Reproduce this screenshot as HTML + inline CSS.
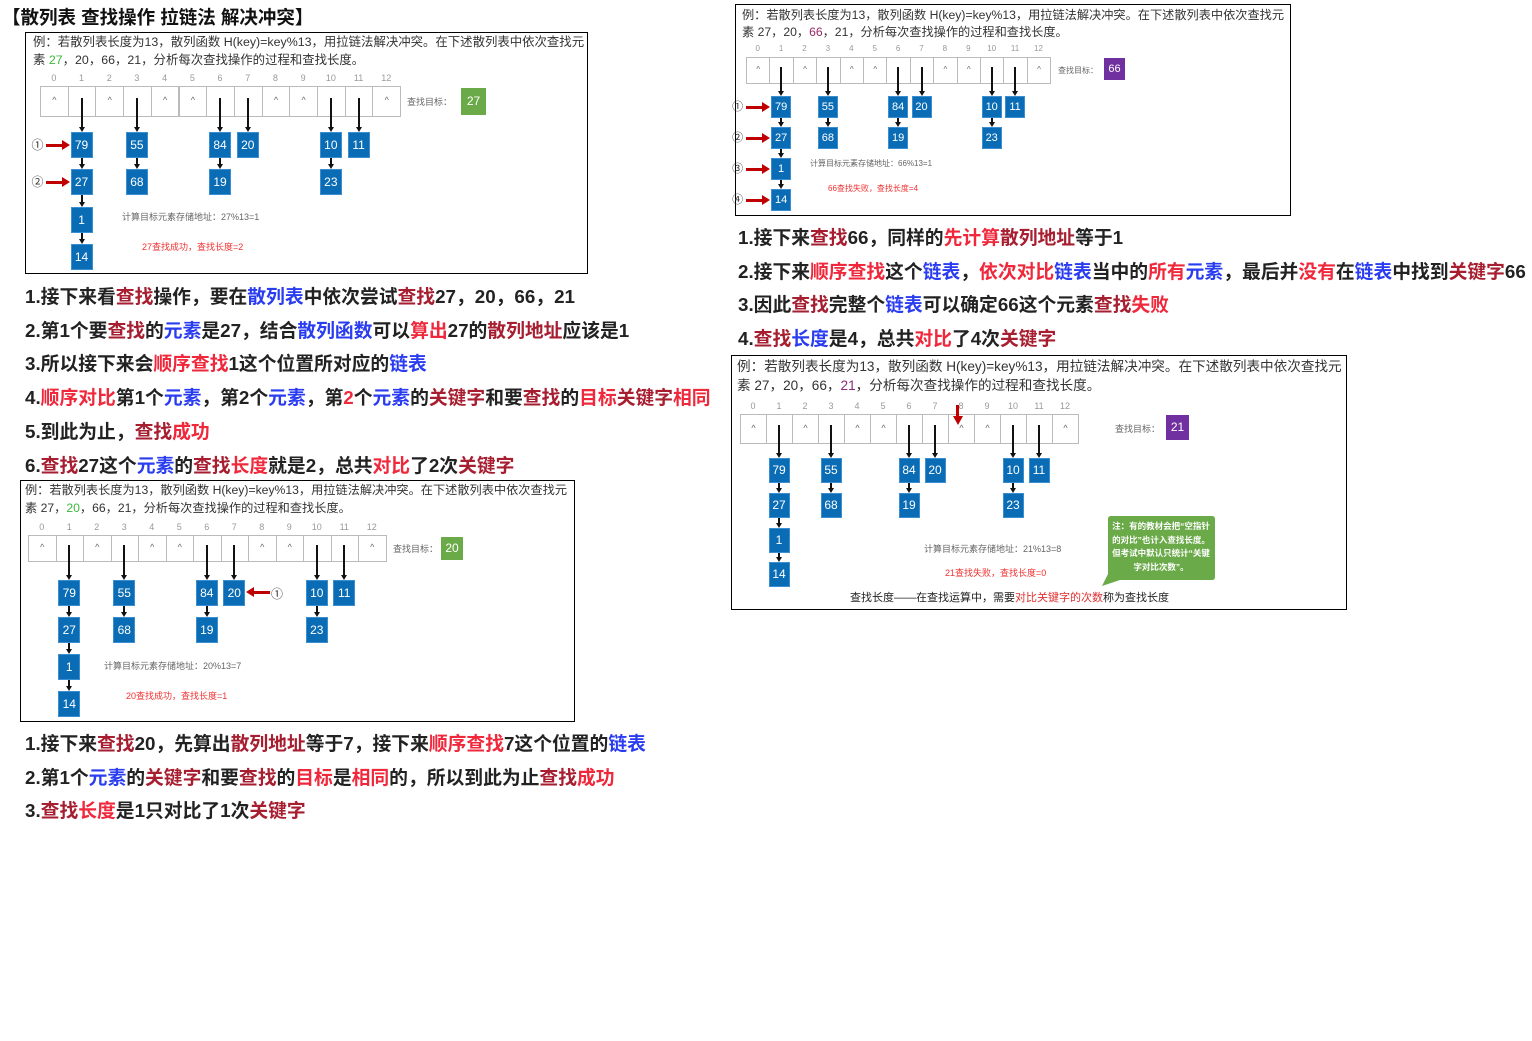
<!DOCTYPE html>
<html><head><meta charset="utf-8">
<style>
body{margin:0;width:1532px;height:1041px;background:#fff;position:relative;overflow:hidden;font-family:"Liberation Sans","Noto Sans CJK SC",sans-serif;}
.a{position:absolute;white-space:nowrap;}
.box{position:absolute;border:1px solid #000;box-sizing:border-box;}
.hd{position:absolute;color:#333;white-space:nowrap;}
.ln{position:absolute;font-weight:bold;font-size:18.8px;color:#222;white-space:nowrap;}
.d{color:#a61e30}.b{color:#2a3cf0}.r{color:#f0283c}
.cell{position:absolute;border:1px solid #bbb;box-sizing:border-box;background:#fff;color:#666;text-align:center;}
.node{position:absolute;background:#0a6cb4;color:#fff;text-align:center;box-sizing:border-box;border:1px solid #3b8fd0;}
.vl{position:absolute;background:#111;width:2px;}
.ah{position:absolute;width:0;height:0;border-left:3px solid transparent;border-right:3px solid transparent;border-top:5px solid #111;}
.idx{position:absolute;color:#999;text-align:center;}
</style></head><body>
<div class="a" style="left:2px;top:4px;font-size:18.5px;font-weight:bold;color:#111">【散列表 查找操作 拉链法 解决冲突】</div>

<div class="box" style="left:25px;top:32px;width:563px;height:242px"></div>
<div class="hd" style="left:33px;top:33px;font-size:12.4px;line-height:18px">例：若散列表长度为13，散列函数 H(key)=key%13，用拉链法解决冲突。在下述散列表中依次查找元<br>素 <span style="color:#3bb83b">27</span>，20，66，21，分析每次查找操作的过程和查找长度。</div>

<div class="box" style="left:735px;top:4px;width:556px;height:212px"></div>
<div class="hd" style="left:742px;top:7px;font-size:12.2px;line-height:17px">例：若散列表长度为13，散列函数 H(key)=key%13，用拉链法解决冲突。在下述散列表中依次查找元<br>素 27，20，<span style="color:#9b2a6a">66</span>，21，分析每次查找操作的过程和查找长度。</div>

<div class="box" style="left:20px;top:480px;width:555px;height:242px"></div>
<div class="hd" style="left:25px;top:481px;font-size:12.2px;line-height:18px">例：若散列表长度为13，散列函数 H(key)=key%13，用拉链法解决冲突。在下述散列表中依次查找元<br>素 27，<span style="color:#3bb83b">20</span>，66，21，分析每次查找操作的过程和查找长度。</div>

<div class="box" style="left:731px;top:355px;width:616px;height:255px"></div>
<div class="hd" style="left:737px;top:357px;font-size:13.6px;line-height:19px">例：若散列表长度为13，散列函数 H(key)=key%13，用拉链法解决冲突。在下述散列表中依次查找元<br>素 27，20，66，<span style="color:#8a2a7a">21</span>，分析每次查找操作的过程和查找长度。</div>

<div class="ln" style="left:25px;top:282px">1.接下来看<span class="d">查找</span>操作，要在<span class="b">散列表</span>中依次尝试<span class="d">查找</span>27，20，66，21</div>
<div class="ln" style="left:25px;top:316px">2.第1个要<span class="d">查找</span>的<span class="b">元素</span>是27，结合<span class="b">散列函数</span>可以<span class="r">算出</span>27的<span class="d">散列地址</span>应该是1</div>
<div class="ln" style="left:25px;top:349px">3.所以接下来会<span class="r">顺序查找</span>1这个位置所对应的<span class="b">链表</span></div>
<div class="ln" style="left:25px;top:383px">4.<span class="r">顺序对比</span>第1个<span class="b">元素</span>，第2个<span class="b">元素</span>，第<span class="r">2</span>个<span class="b">元素</span>的<span class="d">关键字</span>和要<span class="d">查找</span>的<span class="r">目标</span><span class="d">关键字</span><span class="r">相同</span></div>
<div class="ln" style="left:25px;top:417px">5.到此为止，<span class="d">查找</span><span class="r">成功</span></div>
<div class="ln" style="left:25px;top:451px">6.<span class="d">查找</span>27这个<span class="b">元素</span>的<span class="d">查找</span><span class="r">长度</span>就是2，总共<span class="r">对比</span>了2次<span class="d">关键字</span></div>

<div class="ln" style="left:738px;top:223px">1.接下来<span class="d">查找</span>66，同样的<span class="r">先计算</span><span class="d">散列地址</span>等于1</div>
<div class="ln" style="left:738px;top:257px">2.接下来<span class="r">顺序查找</span>这个<span class="b">链表</span>，<span class="r">依次对比</span><span class="b">链表</span>当中的<span class="r">所有</span><span class="b">元素</span>，最后并<span class="r">没有</span>在<span class="b">链表</span>中找到<span class="d">关键字</span>66</div>
<div class="ln" style="left:738px;top:290px">3.因此<span class="d">查找</span>完整个<span class="b">链表</span>可以确定66这个元素<span class="d">查找</span><span class="r">失败</span></div>
<div class="ln" style="left:738px;top:324px">4.<span class="d">查找</span><span class="b">长度</span>是4，总共<span class="r">对比</span>了4次<span class="d">关键字</span></div>

<div class="ln" style="left:25px;top:729px">1.接下来<span class="d">查找</span>20，先算出<span class="d">散列地址</span>等于7，接下来<span class="r">顺序查找</span>7这个位置的<span class="b">链表</span></div>
<div class="ln" style="left:25px;top:763px">2.第1个<span class="b">元素</span>的<span class="d">关键字</span>和要<span class="d">查找</span>的<span class="r">目标</span>是<span class="r">相同</span>的，所以到此为止<span class="d">查找</span><span class="r">成功</span></div>
<div class="ln" style="left:25px;top:796px">3.<span class="d">查找</span><span class="r">长度</span>是1只对比了1次<span class="d">关键字</span></div>

<div id="g"></div>
<script>
var G=document.getElementById('g');
function el(cls,st,txt){var e=document.createElement('div');e.className=cls;e.style.cssText=st;if(txt!==undefined)e.textContent=txt;G.appendChild(e);return e;}
function diag(o){
 var tx=o.tx,ty=o.ty,cw=o.cw,ch=o.ch,nw=o.nw,nh=o.nh,fs=o.fs;
 var filled={1:1,3:1,6:1,7:1,10:1,11:1};
 for(var i=0;i<13;i++){
  var x=tx+cw*i;
  el('idx','left:'+x+'px;top:'+(ty-13)+'px;width:'+cw+'px;font-size:'+(fs-3)+'px',String(i));
  el('cell','left:'+x+'px;top:'+ty+'px;width:'+(cw+1)+'px;height:'+ch+'px;font-size:'+(fs-3)+'px;line-height:'+(ch-4)+'px',filled[i]?'':'^');
 }
 var chains={1:['79','27','1','14'],3:['55','68'],6:['84','19'],7:['20'],10:['10','23'],11:['11']};
 for(var k in chains){
  var cx=tx+cw*(+k+0.5);
  var arr=chains[k];
  for(var j=0;j<arr.length;j++){
   var cy=o.rows[j];
   el('node','left:'+(cx-nw/2)+'px;top:'+(cy-nh/2)+'px;width:'+nw+'px;height:'+nh+'px;font-size:'+fs+'px;line-height:'+(nh-2)+'px',arr[j]);
   var y0=j==0?ty+ch/2-4:o.rows[j-1]+nh/2;
   var y1=cy-nh/2;
   el('vl','left:'+(cx-1)+'px;top:'+y0+'px;height:'+(y1-y0-4)+'px');
   el('ah','left:'+(cx-3)+'px;top:'+(y1-5)+'px');
  }
 }
 el('a','left:'+o.lx+'px;top:'+(ty+ch/2-8)+'px;font-size:'+(fs-3)+'px;color:#666;line-height:16px','查找目标：');
 el('a','left:'+o.bx+'px;top:'+o.by+'px;width:'+o.bw+'px;height:'+o.bh+'px;background:'+o.bc+';color:#fff;text-align:center;font-size:'+(fs)+'px;line-height:'+o.bh+'px',o.target);
 el('a','left:'+o.cx+'px;top:'+o.cy+'px;font-size:'+(fs-3)+'px;color:#666',o.calc);
 el('a','left:'+o.rx+'px;top:'+o.ry+'px;font-size:'+(fs-3)+'px;color:#f03030',o.res);
 (o.marks||[]).forEach(function(m,idx){
  var y=o.rows[idx];var x=tx+cw*1.5-nw/2;
  el('a','left:'+(x-39)+'px;top:'+(y-7)+'px;font-size:'+(fs)+'px;color:#333;line-height:14px',m);
  el('a','left:'+(x-25)+'px;top:'+(y-1)+'px;width:17px;height:3px;background:#c00000');
  el('a','left:'+(x-9)+'px;top:'+(y-5)+'px;width:0;height:0;border-top:5px solid transparent;border-bottom:5px solid transparent;border-left:8px solid #c00000');
 });
}
diag({tx:40,ty:86,cw:27.7,ch:31,nw:22,nh:26,fs:12,rows:[145,182,220,257],lx:407,bx:461,by:88,bw:25,bh:27,bc:'#6aaa48',target:'27',cx:122,cy:210,calc:'计算目标元素存储地址：27%13=1',rx:142,ry:240,res:'27查找成功，查找长度=2',marks:['①','②']});
diag({tx:746,ty:57,cw:23.4,ch:27,nw:20,nh:22,fs:11,rows:[107,138,169,200],lx:1058,bx:1104,by:58,bw:21,bh:22,bc:'#7030a0',target:'66',cx:810,cy:158,calc:'计算目标元素存储地址：66%13=1',rx:828,ry:183,res:'66查找失败，查找长度=4',marks:['①','②','③','④']});
diag({tx:28,ty:535,cw:27.5,ch:27,nw:22,nh:26,fs:12,rows:[593,630,667,704],lx:393,bx:441,by:537,bw:22,bh:23,bc:'#6aaa48',target:'20',cx:104,cy:659,calc:'计算目标元素存储地址：20%13=7',rx:126,ry:689,res:'20查找成功，查找长度=1'});
diag({tx:740,ty:414,cw:26,ch:30,nw:21,nh:25,fs:12,rows:[470,505,540,574],lx:1115,bx:1166,by:415,bw:23,bh:25,bc:'#7030a0',target:'21',cx:924,cy:542,calc:'计算目标元素存储地址：21%13=8',rx:945,ry:566,res:'21查找失败，查找长度=0'});
</script>
<div class="a" style="left:252px;top:591px;width:18px;height:3px;background:#c00000"></div>
<div class="a" style="left:246px;top:587px;width:0;height:0;border-top:5px solid transparent;border-bottom:5px solid transparent;border-right:8px solid #c00000"></div>
<div class="a" style="left:271px;top:585px;font-size:12px;color:#333">①</div>
<div class="a" style="left:956px;top:405px;width:3px;height:12px;background:#c00000"></div>
<div class="a" style="left:953px;top:416px;width:0;height:0;border-left:5px solid transparent;border-right:5px solid transparent;border-top:9px solid #c00000"></div>
<svg class="a" style="left:1098px;top:514px" width="120" height="74"><path d="M10 2 H114 Q117 2 117 5 V63 Q117 66 114 66 H22 L4 72 L10 60 V5 Q10 2 13 2 Z" fill="#6aaa48"/></svg>
<div class="a" style="left:1108px;top:520px;width:106px;font-size:8.5px;line-height:13.5px;color:#fff;font-weight:bold;text-align:center;white-space:normal">注：有的教材会把“空指针的对比”也计入查找长度。但考试中默认只统计“关键字对比次数”。</div>
<div class="a" style="left:850px;top:589px;font-size:11px;color:#222">查找长度——在查找运算中，需要<span style="color:#e03030">对比关键字的次数</span>称为查找长度</div>
</body></html>
